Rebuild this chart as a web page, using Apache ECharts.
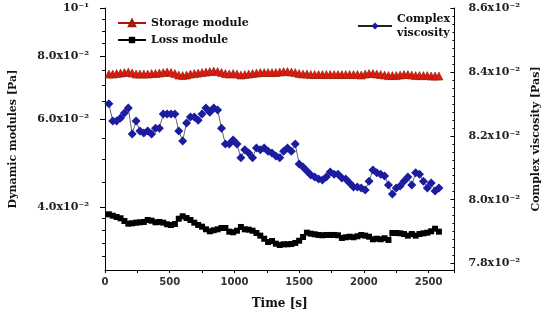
<!DOCTYPE html>
<html><head><meta charset="utf-8">
<script src="https://cdn.jsdelivr.net/npm/echarts@6/dist/echarts.min.js"></script>
<style>html,body{margin:0;padding:0;background:#fff}#c{width:550px;height:320px}</style>
</head><body><div id="c"></div>
<script>
const times = [30,60,90,120,150,180,210,240,270,300,330,360,390,420,450,480,510,540,570,600,
  630,660,690,720,750,780,810,840,870,900,930,960,990,1020,1050,1080,1110,1140,1170,1200,
  1230,1260,1290,1320,1350,1380,1410,1440,1470,1500,1530,1560,1590,1620,1650,1680,1710,1740,1770,1800,
  1830,1860,1890,1920,1950,1980,2010,2040,2070,2100,2130,2160,2190,2220,2250,2280,2310,2340,2370,2400,
  2430,2460,2490,2520,2550,2580];

const storageModulus = [0.07382,0.07382,0.07399,0.07416,0.07433,0.07450,0.07416,0.07382,0.07382,0.07382,
  0.07382,0.07399,0.07399,0.07416,0.07433,0.07450,0.07433,0.07399,0.07348,0.07331,
  0.07348,0.07382,0.07399,0.07416,0.07433,0.07450,0.07467,0.07484,0.07467,0.07433,
  0.07399,0.07382,0.07399,0.07382,0.07348,0.07365,0.07382,0.07399,0.07416,0.07433,
  0.07433,0.07433,0.07433,0.07433,0.07450,0.07467,0.07467,0.07450,0.07433,0.07399,
  0.07382,0.07382,0.07365,0.07365,0.07365,0.07365,0.07365,0.07365,0.07365,0.07365,
  0.07365,0.07365,0.07365,0.07365,0.07365,0.07348,0.07382,0.07399,0.07399,0.07382,
  0.07365,0.07348,0.07331,0.07331,0.07331,0.07348,0.07365,0.07365,0.07348,0.07331,
  0.07331,0.07331,0.07331,0.07315,0.07315,0.07315];

const lossModulus = [0.03875,0.03850,0.03827,0.03805,0.03758,0.03712,0.03718,0.03729,0.03735,0.03741,
  0.03775,0.03763,0.03735,0.03741,0.03729,0.03701,0.03689,0.03707,0.03797,0.03840,
  0.03809,0.03775,0.03729,0.03689,0.03661,0.03617,0.03584,0.03601,0.03617,0.03639,
  0.03639,0.03578,0.03568,0.03594,0.03656,0.03617,0.03611,0.03594,0.03556,0.03513,
  0.03464,0.03412,0.03428,0.03386,0.03365,0.03376,0.03376,0.03381,0.03397,0.03432,
  0.03491,0.03561,0.03545,0.03535,0.03524,0.03519,0.03524,0.03524,0.03524,0.03519,
  0.03476,0.03487,0.03496,0.03487,0.03503,0.03524,0.03513,0.03496,0.03455,0.03464,
  0.03455,0.03471,0.03444,0.03556,0.03556,0.03551,0.03540,0.03513,0.03540,0.03513,
  0.03540,0.03551,0.03561,0.03584,0.03627,0.03578];

const complexViscosity = [0.08300,0.08246,0.08246,0.08256,0.08271,0.08287,0.08206,0.08246,0.08215,0.08209,
  0.08215,0.08206,0.08224,0.08224,0.08268,0.08268,0.08268,0.08268,0.08215,0.08184,
  0.08240,0.08259,0.08259,0.08249,0.08268,0.08287,0.08274,0.08287,0.08281,0.08224,
  0.08174,0.08174,0.08187,0.08174,0.08131,0.08156,0.08146,0.08131,0.08162,0.08156,
  0.08162,0.08152,0.08146,0.08137,0.08131,0.08152,0.08162,0.08152,0.08174,0.08112,
  0.08102,0.08090,0.08077,0.08071,0.08065,0.08062,0.08071,0.08087,0.08080,0.08080,
  0.08068,0.08065,0.08052,0.08040,0.08040,0.08037,0.08030,0.08058,0.08093,0.08084,
  0.08080,0.08074,0.08046,0.08018,0.08037,0.08043,0.08058,0.08071,0.08046,0.08084,
  0.08080,0.08058,0.08037,0.08052,0.08027,0.08037];

const xTicks = [0,500,1000,1500,2000,2500];
const leftTickValues = [0.04,0.06,0.08,0.1];
const leftTickLabels = ['4.0x10\u207B\u00B2','6.0x10\u207B\u00B2','8.0x10\u207B\u00B2','10\u207B\u00B9'];
const leftMinorTicks = [0.032,0.034,0.036,0.038,0.045,0.05,0.055,0.065,0.07,0.075,0.085,0.09,0.095];
const rightTickValues = [0.078,0.080,0.082,0.084,0.086];
const rightTickLabels = ['7.8x10\u207B\u00B2','8.0x10\u207B\u00B2','8.2x10\u207B\u00B2','8.4x10\u207B\u00B2','8.6x10\u207B\u00B2'];
const rightMinorTicks = [];
for (let i = 0; i <= 32; i++) { const v = +(0.078 + i * 0.00025).toFixed(5); if (i % 8) rightMinorTicks.push(v); }

const serif = 'DejaVu Serif';
const lblStyle = {fontFamily: serif, fontWeight: 'bold', fontSize: 11, color: '#222'};
const black = {color: '#000', width: 1};

const chart = echarts.init(document.getElementById('c'), null, {renderer: 'canvas'});
chart.setOption({
  animation: false,
  backgroundColor: '#fff',
  grid: {left: 104, right: 92, top: 8, bottom: 50},
  legend: [
    {left: 112, top: 11, orient: 'vertical', itemWidth: 28, itemHeight: 8, itemGap: 3,
     data: ['Storage module', 'Loss module'],
     textStyle: {fontFamily: serif, fontWeight: 'bold', fontSize: 11, color: '#111', lineHeight: 14}},
    {left: 352, top: 7, itemWidth: 34, itemHeight: 9,
     data: ['Complex viscosity'], formatter: 'Complex\nviscosity',
     textStyle: {fontFamily: serif, fontWeight: 'bold', fontSize: 11, color: '#111', lineHeight: 14}}
  ],
  xAxis: {
    type: 'value', min: 0, max: 2700, interval: 500,
    name: 'Time [s]', nameLocation: 'middle', nameGap: 28,
    nameTextStyle: {fontFamily: serif, fontWeight: 'bold', fontSize: 12, color: '#111'},
    axisLine: {lineStyle: black},
    axisTick: {length: 3, lineStyle: black},
    minorTick: {show: true, splitNumber: 2, length: 3, lineStyle: black},
    axisLabel: {margin: 7, fontFamily: 'DejaVu Sans', fontWeight: 'bold', fontSize: 10, color: '#333',
      customValues: xTicks, formatter: v => String(v)},
    splitLine: {show: false}
  },
  yAxis: [
    {type: 'log', logBase: 10, min: 0.03, max: 0.1, position: 'left',
     name: 'Dynamic modules [Pa]', nameLocation: 'middle', nameGap: 86,
     nameTextStyle: {fontFamily: serif, fontWeight: 'bold', fontSize: 11, color: '#111'},
     axisLine: {show: true, lineStyle: black},
     axisTick: {show: true, length: 5, lineStyle: black, customValues: leftTickValues},
     axisLabel: {margin: 16, ...lblStyle, customValues: leftTickValues,
       formatter: v => { const i = leftTickValues.findIndex(t => Math.abs(t - v) < 1e-9); return i >= 0 ? leftTickLabels[i] : ''; }},
     splitLine: {show: false}},
    {type: 'log', logBase: 10, min: 0.03, max: 0.1, position: 'left',
     axisLine: {show: false}, axisLabel: {show: false},
     axisTick: {show: true, length: 3, lineStyle: black, customValues: leftMinorTicks},
     splitLine: {show: false}},
    {type: 'value', min: 0.0778, max: 0.086, position: 'right',
     name: 'Complex viscosity [Pas]', nameLocation: 'middle', nameGap: 76,
     nameTextStyle: {fontFamily: serif, fontWeight: 'bold', fontSize: 11, color: '#111'},
     axisLine: {show: true, lineStyle: black},
     axisTick: {show: true, inside: true, length: 4, lineStyle: black, customValues: rightTickValues},
     axisLabel: {margin: 14, ...lblStyle, customValues: rightTickValues,
       formatter: v => { const i = rightTickValues.findIndex(t => Math.abs(t - v) < 1e-9); return i >= 0 ? rightTickLabels[i] : ''; }},
     splitLine: {show: false}},
    {type: 'value', min: 0.0778, max: 0.086, position: 'right',
     axisLine: {show: false}, axisLabel: {show: false},
     axisTick: {show: true, inside: true, length: 2, lineStyle: black, customValues: rightMinorTicks},
     splitLine: {show: false}}
  ],
  series: [
    {name: 'Storage module', type: 'line', yAxisIndex: 0,
     data: times.map((t, i) => [t, storageModulus[i]]),
     symbol: 'triangle', symbolSize: 8, showAllSymbol: true,
     itemStyle: {color: '#e01a12', borderColor: '#8a2208', borderWidth: 0.6},
     lineStyle: {color: '#b01208', width: 1}},
    {name: 'Loss module', type: 'line', yAxisIndex: 0,
     data: times.map((t, i) => [t, lossModulus[i]]),
     symbol: 'rect', symbolSize: 6, showAllSymbol: true,
     itemStyle: {color: '#000'},
     lineStyle: {color: '#000', width: 1}},
    {name: 'Complex viscosity', type: 'line', yAxisIndex: 2,
     data: times.map((t, i) => [t, complexViscosity[i]]),
     symbol: 'diamond', symbolSize: 9, showAllSymbol: true,
     itemStyle: {color: '#1c1ca0'},
     lineStyle: {color: '#222', width: 0.7}}
  ]
});
</script></body></html>
